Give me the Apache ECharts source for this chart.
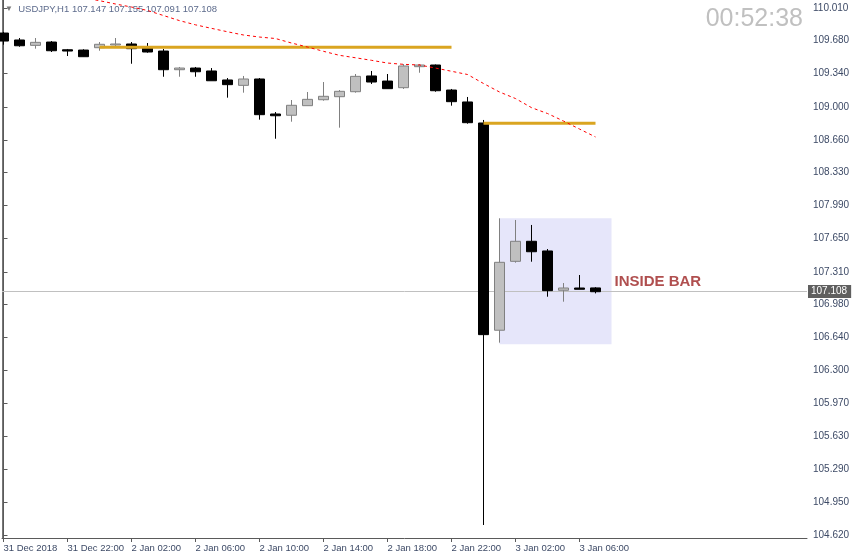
<!DOCTYPE html>
<html>
<head>
<meta charset="utf-8">
<script src="https://cdn.jsdelivr.net/npm/echarts@6/dist/echarts.min.js"></script>
<style>
html, body { margin: 0; padding: 0; background: #fff; }
#main { width: 855px; height: 560px; }
</style>
</head>
<body>
<div id="main"></div>
<script>
// USDJPY H1, one bar per hour from 31 Dec 2018 18:00 to 3 Jan 07:00
var opens  = [109.754, 109.683, 109.628, 109.662, 109.583, 109.580, 109.604, 109.632, 109.642, 109.601,
              109.570, 109.379, 109.396, 109.366, 109.274, 109.219, 109.284, 108.926, 108.913, 109.011,
              109.072, 109.103, 109.154, 109.315, 109.263, 109.195, 109.410, 109.427, 109.171, 109.049,
              108.834, 106.714, 107.419, 107.624, 107.525, 107.123, 107.146, 107.147];
var closes = [109.672, 109.624, 109.659, 109.573, 109.570, 109.512, 109.639, 109.642, 109.594, 109.560,
              109.379, 109.396, 109.358, 109.266, 109.226, 109.284, 108.919, 108.908, 109.015, 109.076,
              109.107, 109.158, 109.311, 109.253, 109.185, 109.417, 109.427, 109.164, 109.052, 108.837,
              106.669, 107.409, 107.624, 107.517, 107.119, 107.146, 107.133, 107.108];
var lows   = [109.635, 109.614, 109.594, 109.560, 109.519, 109.509, 109.573, 109.608, 109.440, 109.553,
              109.307, 109.307, 109.307, 109.266, 109.093, 109.144, 108.868, 108.673, 108.847, 109.011,
              109.062, 108.786, 109.144, 109.233, 109.185, 109.182, 109.348, 109.154, 109.011, 108.827,
              104.722, 106.587, 107.405, 107.415, 107.057, 107.006, 107.133, 107.091];
var highs  = [109.765, 109.703, 109.703, 109.672, 109.591, 109.588, 109.662, 109.703, 109.662, 109.652,
              109.591, 109.407, 109.407, 109.396, 109.294, 109.315, 109.294, 108.946, 109.069, 109.151,
              109.253, 109.171, 109.335, 109.366, 109.335, 109.437, 109.437, 109.432, 109.182, 109.100,
              108.865, 107.859, 107.842, 107.791, 107.545, 107.197, 107.279, 107.155];

// moving average (red dotted), starts at bar 5
var maStart = 5;
var maValues = [110.115, 110.085, 110.051, 110.020, 109.985, 109.933, 109.881, 109.838, 109.802, 109.767,
                109.734, 109.713, 109.698, 109.652, 109.611, 109.567, 109.526, 109.501, 109.475, 109.447,
                109.434, 109.427, 109.396, 109.363, 109.330, 109.238, 109.151, 109.084, 108.991, 108.931,
                108.854, 108.772, 108.691];

// horizontal levels (goldenrod)
var levels = [
  { from: 6, to: 28, price: 109.608 },
  { from: 30, to: 37, price: 108.831 }
];

// inside bar box: from mother bar to one bar past the last one
var boxFrom = 31, boxTo = 38;

var xTickIdx    = [0, 4, 8, 12, 16, 20, 24, 28, 32, 36];
var xTickLabels = ['31 Dec 2018', '31 Dec 22:00', '2 Jan 02:00', '2 Jan 06:00', '2 Jan 10:00',
                   '2 Jan 14:00', '2 Jan 18:00', '2 Jan 22:00', '3 Jan 02:00', '3 Jan 06:00'];
var yTicks = [110.010, 109.680, 109.340, 109.000, 108.660, 108.330, 107.990, 107.650, 107.310,
              106.980, 106.640, 106.300, 105.970, 105.630, 105.290, 104.950, 104.620];

var lastPrice = closes[closes.length - 1];

var candles = opens.map(function (o, i) {
  return [i, o, closes[i], lows[i], highs[i]];
});
var maData = maValues.map(function (v, i) { return [maStart + i, v]; });

var axisColor = '#5a5a5a';
var labelColor = '#3d4a66';
var font = 'Liberation Sans';

var levelSeries = levels.map(function (l) {
  return {
    type: 'line',
    data: [[l.from, l.price], [l.to, l.price]],
    symbol: 'none',
    lineStyle: { color: '#daa520', width: 3 },
    z: 3,
    silent: true
  };
});

var chart = echarts.init(document.getElementById('main'));
var option = {
  animation: false,
  backgroundColor: '#fff',
  grid: { left: 2, right: 48, top: 0, bottom: 22 },
  xAxis: {
    type: 'value',
    min: -0.09375,
    max: 50.21875,
    axisLine: { show: true, lineStyle: { color: axisColor } },
    axisTick: { show: true, length: 4, customValues: xTickIdx, lineStyle: { color: axisColor } },
    axisLabel: {
      customValues: xTickIdx,
      align: 'left',
      margin: 5,
      color: labelColor,
      fontSize: 9.5,
      fontFamily: font,
      formatter: function (v) { return xTickLabels[xTickIdx.indexOf(Math.round(v))]; }
    },
    splitLine: { show: false }
  },
  yAxis: [{
    type: 'value',
    position: 'right',
    min: 104.589,
    max: 110.092,
    axisLine: { show: true, lineStyle: { color: axisColor } },
    axisTick: { show: true, length: 4, customValues: yTicks, lineStyle: { color: axisColor } },
    axisLabel: {
      customValues: yTicks,
      margin: 6,
      color: labelColor,
      fontSize: 10,
      fontFamily: font,
      formatter: function (v) { return v.toFixed(3); }
    },
    splitLine: { show: false }
  }, {
    // left frame line
    type: 'value',
    position: 'left',
    min: 104.589,
    max: 110.092,
    axisLine: { show: true, lineStyle: { color: '#777' } },
    axisTick: { show: false },
    axisLabel: { show: false },
    splitLine: { show: false }
  }],
  series: [{
    type: 'candlestick',
    data: candles,
    barWidth: 11,
    z: 2,
    itemStyle: {
      color: '#c0c0c0',
      color0: '#000000',
      borderColor: '#808080',
      borderColor0: '#000000',
      borderWidth: 1
    },
    markArea: {
      silent: true,
      z: 1,
      itemStyle: { color: '#e6e6fa' },
      label: {
        show: true,
        position: 'right',
        distance: 3,
        offset: [0, 1],
        formatter: 'INSIDE BAR',
        color: '#b04f4f',
        fontWeight: 'bold',
        fontSize: 15,
        fontFamily: font
      },
      data: [[{ xAxis: boxFrom, yAxis: highs[boxFrom] }, { xAxis: boxTo, yAxis: lows[boxFrom] - 0.016 }]]
    },
    markLine: {
      silent: true,
      z: 1.5,
      symbol: ['none', 'none'],
      lineStyle: { color: '#c0c0c0', width: 1, type: 'solid' },
      label: {
        show: true,
        position: 'end',
        distance: 1,
        formatter: function () { return lastPrice.toFixed(3); },
        color: '#fff',
        backgroundColor: '#5f5f5f',
        padding: [2, 4, 1, 3],
        fontSize: 10,
        fontFamily: font
      },
      data: [{ yAxis: lastPrice }]
    }
  }].concat(levelSeries).concat([{
    type: 'line',
    data: maData,
    symbol: 'none',
    z: 4,
    silent: true,
    lineStyle: { color: '#ff0000', width: 1, type: [3, 3] }
  }]),
  graphic: [{
    type: 'text',
    left: 5,
    top: 4,
    style: {
      text: '{t|▼}  USDJPY,H1 107.147 107.155 107.091 107.108',
      fill: '#5d6b8c',
      fontSize: 9.5,
      fontFamily: font,
      rich: { t: { fill: '#777', fontSize: 8 } }
    }
  }, {
    type: 'text',
    right: 52,
    top: 7,
    style: {
      text: '00:52:38',
      fill: '#c0c0c0',
      fontSize: 25,
      fontFamily: font
    }
  }]
};
chart.setOption(option);
</script>
</body>
</html>
